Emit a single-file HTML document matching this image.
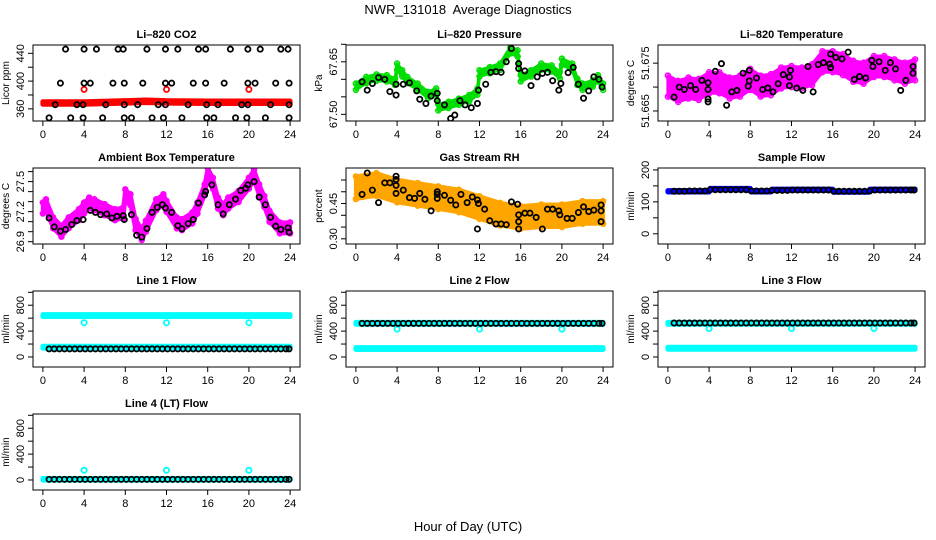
<!DOCTYPE html>
<html><head><meta charset="utf-8">
<style>
body{margin:0;background:#fff;}
svg{display:block;font-family:"Liberation Sans",Arial,sans-serif;}
</style></head>
<body>
<svg id="chart" width="936" height="540" viewBox="0 0 936 540">
<text x="468" y="14" text-anchor="middle" font-size="13" style="white-space:pre">NWR_131018  Average Diagnostics</text>
<text x="468" y="531" text-anchor="middle" font-size="13">Hour of Day (UTC)</text>
</svg>
<script>
// ---------- data ----------
const xTicks = [0,4,8,12,16,20,24];
const flowTimes = [0.6,1.1,1.6,2.1,2.6,3.1,3.6,4.1,4.6,5.1,5.6,6.1,6.6,7.1,7.6,8.1,8.6,9.1,9.6,10.1,10.6,11.1,11.6,12.1,12.6,13.1,13.6,14.1,14.6,15.1,15.6,16.1,16.6,17.1,17.6,18.1,18.6,19.1,19.6,20.1,20.6,21.1,21.6,22.1,22.6,23.1,23.6,23.9];
const outlierTimes = [4,12,20];

// CO2
const co2BandT = [0,4,8,10,12,16,20,24];
const co2BandV = [368.5,368.5,370,371,370,369.5,369.5,369.5];
const co2Outliers = [388,388,388];
const co2Black = [
[2.2,446],[4,446],[5.2,446],[7.3,446],[7.8,446],[10.1,446],[11.9,446],[13.1,446],[15.1,446],[15.8,446],[18.2,446],[19.9,446],[21.1,446],[23.1,446],[23.8,446],
[1.7,397],[4,397],[4.6,397],[6.8,397],[7.9,397],[9.7,397],[11.9,397],[12.5,397],[14.6,397],[15.8,397],[17.6,397],[19.9,397],[20.6,397],[22.6,397],[23.9,397],
[1.2,366],[3.3,366],[3.9,366],[6.1,366],[7.9,366],[9.2,366],[11.2,366],[11.9,366],[14.1,366],[15.9,366],[17.0,366],[19.3,366],[19.9,366],[22.1,366],[23.9,366],
[0.6,347],[2.7,347],[3.9,347],[5.8,347],[7.9,347],[8.6,347],[10.6,347],[11.7,347],[13.5,347],[15.9,347],[16.6,347],[18.7,347],[19.8,347],[21.6,347],[23.9,347]];

// Pressure
const presCloudT = [0,1,2,3,3.8,4,4.5,5,6,7,7.8,8,9,10,11,11.8,12,13,14,15,15.7,16,17,18,19,19.8,20,21,21.5,22,23,23.5,24];
const presCloudV = [67.579,67.598,67.605,67.603,67.593,67.636,67.617,67.598,67.579,67.555,67.565,67.520,67.527,67.536,67.546,67.565,67.617,67.626,67.636,67.683,67.674,67.603,67.617,67.636,67.631,67.612,67.650,67.636,67.593,67.579,67.588,67.603,67.579];
const presBlack = [[0.6,67.593],[1.1,67.569],[1.6,67.588],[2.2,67.605],[2.8,67.600],[3.3,67.565],[3.9,67.586],[3.9,67.555],[4.6,67.586],[5.2,67.590],[5.9,67.567],[6.2,67.543],[6.8,67.531],[7.3,67.552],[7.9,67.560],[7.9,67.539],[8.6,67.527],[9.2,67.488],[9.6,67.498],[10.1,67.539],[10.6,67.527],[11.2,67.519],[11.8,67.531],[11.9,67.569],[12.6,67.586],[13.1,67.620],[13.6,67.622],[14.1,67.620],[14.6,67.650],[15.1,67.688],[15.8,67.645],[15.8,67.631],[16.4,67.624],[17.0,67.582],[17.6,67.607],[18.1,67.617],[18.6,67.620],[19.1,67.596],[19.7,67.569],[19.9,67.588],[20.6,67.619],[21.1,67.634],[21.6,67.586],[22.1,67.546],[22.6,67.567],[23.1,67.607],[23.6,67.600],[23.9,67.578]];

// Li-820 temperature
const ltempCloudT = [0,1,2,3,4,5,6,7,8,9,10,11,12,13,14,15,16,17,18,19,20,21,22,23,24];
const ltempCloudV = [51.6702,51.6691,51.6698,51.6695,51.6709,51.6709,51.6698,51.6702,51.6716,51.6702,51.6705,51.6719,51.6722,51.6719,51.6726,51.6753,51.6753,51.6747,51.6733,51.6729,51.6743,51.6743,51.6736,51.6729,51.6736];
const ltempBlack = [[0.6,51.6679],[1.1,51.6700],[1.6,51.6695],[2.2,51.6703],[2.7,51.6695],[3.3,51.6714],[3.9,51.6695],[3.9,51.6675],[3.9,51.6669],[3.9,51.6709],[4.6,51.6733],[5.2,51.6749],[5.7,51.6662],[6.2,51.6690],[6.7,51.6693],[7.3,51.6729],[7.8,51.6702],[7.9,51.6713],[7.9,51.6735],[8.6,51.6719],[9.2,51.6695],[9.7,51.6698],[10.2,51.6690],[10.7,51.6707],[11.2,51.6726],[11.8,51.6721],[11.9,51.6735],[11.8,51.6703],[12.5,51.6698],[13.1,51.6693],[13.6,51.6743],[14.1,51.6690],[14.6,51.6747],[15.1,51.6751],[15.7,51.6748],[15.8,51.6769],[15.8,51.6741],[16.3,51.6762],[16.9,51.6759],[17.5,51.6773],[18.1,51.6716],[18.6,51.6722],[19.2,51.6719],[19.8,51.6756],[19.9,51.6743],[20.5,51.6753],[21.1,51.6735],[21.6,51.6751],[22.1,51.6738],[22.6,51.6693],[23.1,51.6714],[23.8,51.6743],[23.8,51.6729]];

// Ambient box temperature
const ambCloudT = [0,0.3,1,1.8,2.5,3.5,4,4.5,5,6,7,7.8,8,8.5,9,9.6,10,11,11.7,12,13,13.5,14.5,15,15.7,16,16.5,17,17.5,18,19,20,20.5,21,21.5,22,23,24];
const ambCloudV = [27.236,27.269,27.088,27.005,27.088,27.170,27.236,27.286,27.269,27.220,27.170,27.187,27.368,27.319,27.071,26.972,27.055,27.269,27.319,27.253,27.088,27.071,27.137,27.236,27.418,27.583,27.484,27.286,27.220,27.286,27.352,27.484,27.566,27.418,27.302,27.154,27.038,27.038];
const ambBlack = [[0.6,27.137],[1.1,27.048],[1.7,27.005],[2.2,27.022],[2.8,27.071],[3.3,27.111],[3.9,27.121],[4.6,27.213],[5.1,27.193],[5.6,27.170],[6.2,27.177],[6.7,27.137],[7.2,27.154],[7.8,27.160],[7.9,27.121],[8.6,27.170],[9.1,26.965],[9.6,26.946],[10.1,27.031],[10.6,27.193],[11.1,27.243],[11.6,27.269],[11.9,27.236],[12.5,27.193],[13.1,27.061],[13.5,27.028],[14.1,27.081],[14.6,27.121],[15.1,27.286],[15.7,27.368],[15.8,27.401],[16.4,27.467],[17.0,27.269],[17.5,27.177],[18.1,27.269],[18.7,27.325],[19.2,27.411],[19.7,27.434],[19.9,27.467],[20.5,27.500],[21.0,27.345],[21.6,27.269],[22.1,27.144],[22.6,27.055],[23.1,27.022],[23.8,27.038],[23.9,26.995]];

// Gas stream RH
const rhCloudT = [0,2,4,6,8,10,12,14,16,18,20,22,24];
const rhCloudV = [0.517,0.531,0.503,0.489,0.475,0.461,0.433,0.405,0.391,0.398,0.398,0.412,0.412];
const rhBlack = [[0.6,0.489],[1.1,0.580],[1.6,0.507],[2.2,0.454],[2.8,0.538],[3.3,0.538],[3.9,0.566],[3.9,0.552],[3.9,0.493],[3.9,0.527],[4.6,0.507],[5.2,0.475],[5.7,0.472],[6.2,0.493],[6.7,0.468],[7.3,0.419],[7.9,0.500],[7.9,0.489],[7.9,0.472],[8.6,0.485],[9.2,0.464],[9.7,0.444],[10.2,0.489],[10.8,0.454],[11.3,0.478],[11.8,0.465],[11.8,0.342],[11.9,0.450],[12.5,0.426],[13.0,0.377],[13.6,0.363],[14.1,0.363],[14.6,0.360],[15.1,0.457],[15.7,0.447],[15.8,0.402],[15.8,0.373],[15.8,0.342],[16.4,0.409],[16.9,0.409],[17.5,0.391],[18.1,0.342],[18.6,0.426],[19.1,0.426],[19.7,0.419],[19.8,0.402],[20.5,0.387],[21.0,0.387],[21.6,0.412],[22.1,0.436],[22.6,0.416],[23.1,0.422],[23.8,0.444],[23.8,0.419],[23.8,0.373]];

// Sample flow
const sampleBandT = [0,4,4.1,8,8.1,10,10.1,16,16.1,19.5,19.6,24];
const sampleBandV = [133,133,140,140,133,133,138,138,132,132,138,138];
const sampleBlackV = [133,133,133,134,134,134,134,138,138,138,138,138,138,138,138,134,134,134,134,136,136,136,136,137,137,137,137,137,137,137,137,133,133,133,133,133,133,133,134,137,137,137,137,137,137,137,137,137];

// Line flows
const bandT = [0,24];
const line1High = [640,640];
const line1Low = [150,150];
const line1Out = [530,530,530];
const line1Black = 125;
const line2High = [520,520];
const line2Low = [130,130];
const line2Out = [430,430,430];
const line2Black = 520;
const line3High = [520,520];
const line3Low = [135,135];
const line3Out = [440,440,440];
const line3Black = 525;
const line4Low = [10,10];
const line4Out = [150,150,150];
const line4Black = 10;

// ---------- rendering ----------
const NS = "http://www.w3.org/2000/svg";
const svg = document.getElementById('chart');
const colL = [33,346,658], colW = 267;
const rowT = [45,168,291,414], rowH = 76;
const XMIN = -0.96, XMAX = 24.96;

function mk(tag, attrs, parent){
  const e = document.createElementNS(NS, tag);
  for (const k in attrs) e.setAttribute(k, attrs[k]);
  (parent||svg).appendChild(e);
  return e;
}

function panel(name, col, row, title, ymin, ymax, ticks, labels, ylab){
  const L = colL[col], T = rowT[row], W = colW, H = rowH;
  const g = mk('g', {});
  
  
  const xs = t => L + (t - XMIN) / (XMAX - XMIN) * W;
  const ys = v => T + H - (v - ymin) / (ymax - ymin) * H;
  const tt = mk('text', {x: L + W/2, y: T - 7, 'text-anchor':'middle', 'font-size':11, 'font-weight':'bold'}, g);
  tt.textContent = title;
  
  
  const xa = mk('g', {}, g);
  
  
  mk('line', {x1: xs(xTicks[0]), x2: xs(xTicks[xTicks.length-1]), y1: T+H, y2: T+H, stroke:'#000'}, xa);
  xTicks.forEach(t => {
    mk('line', {x1: xs(t), x2: xs(t), y1: T+H, y2: T+H+5, stroke:'#000'}, xa);
    const lb = mk('text', {x: xs(t), y: T+H+17, 'text-anchor':'middle', 'font-size':11}, xa);
    lb.textContent = t;
  });
  const ya = mk('g', {}, g);
  
  
  mk('line', {x1: L, x2: L, y1: ys(ticks[0]), y2: ys(ticks[ticks.length-1]), stroke:'#000'}, ya);
  ticks.forEach(v => {
    mk('line', {x1: L-5, x2: L, y1: ys(v), y2: ys(v), stroke:'#000'}, ya);
  });
  labels.forEach(v => {
    const y = ys(v);
    const lb = mk('text', {x: L-9, y: y, 'text-anchor':'middle', 'font-size':11, transform:`rotate(-90 ${L-9} ${y})`}, ya);
    lb.textContent = v;
  });
  const yl = mk('text', {x: L-24, y: T+H/2, 'text-anchor':'middle', 'font-size':10, transform:`rotate(-90 ${L-24} ${T+H/2})`}, g);
  yl.textContent = ylab;
  
  
  const clipId = 'clip-' + name;
  const cp = mk('clipPath', {id: clipId}, g);
  mk('rect', {x: L, y: T, width: W, height: H}, cp);
  const plot = mk('g', {'clip-path': `url(#${clipId})`}, g);
  const box = mk('rect', {x: L, y: T, width: W, height: H, fill:'none', stroke:'#000'}, g);
  
  
  return {xs, ys, plot};
}

function band(p, tArr, vArr, hw, color, name, dots, sw){
  let up = [], dn = [];
  for (let i=0;i<tArr.length;i++){
    up.push(p.xs(tArr[i]) + ',' + p.ys(vArr[i]+hw));
    dn.unshift(p.xs(tArr[i]) + ',' + p.ys(vArr[i]-hw));
  }
  const poly = mk('polygon', {points: up.concat(dn).join(' '), fill: color, stroke: color, 'stroke-width': (sw===undefined?5:sw), 'stroke-linejoin':'round'}, p.plot);
  
  
  if (dots){
    for (let i=0;i<tArr.length;i++){
      [-1,1].forEach(k => {
        const c = mk('circle', {cx: p.xs(tArr[i]), cy: p.ys(vArr[i]+k*hw), r: 2.5, fill:'none', stroke: color, 'stroke-width':1.5}, p.plot);
        
        
      });
    }
  }
}

function pts(p, pairs, color, name){
  pairs.forEach(([t,v]) => {
    const c = mk('circle', {cx: p.xs(t), cy: p.ys(v), r: 2.6, fill:'none', stroke: color, 'stroke-width':1.8}, p.plot);
    
    
  });
}
const zip = (ts, vs) => ts.map((t,i) => [t, vs[i]]);
const constPairs = (ts, v) => ts.map(t => [t, v]);

// Row 1
let p = panel('co2', 0, 0, 'Li–820 CO2', 342.5, 452, [360,380,400,420,440], [360,400,440], 'Licor ppm');
band(p, co2BandT, co2BandV, 1.8, '#ff0000', 'co2-red-band', false);
pts(p, zip(outlierTimes, co2Outliers), '#ff0000', 'co2-red-outlier');
pts(p, co2Black, '#000', 'co2-black-point');

p = panel('pressure', 1, 0, 'Li–820 Pressure', 67.481, 67.698, [67.50,67.55,67.60,67.65,67.70], ['67.50','67.65'], 'kPa');
band(p, presCloudT, presCloudV, 0.009, '#00dd00', 'pressure-green-cloud', true, 3);
pts(p, presBlack, '#000', 'pressure-black-point');

p = panel('licor-temp', 2, 0, 'Li–820 Temperature', 51.6629, 51.6788, [51.665,51.670,51.675], ['51.665','51.675'], 'degrees C');
band(p, ltempCloudT, ltempCloudV, 0.0022, '#ff00ff', 'licor-temp-magenta-cloud', true, 3);
pts(p, ltempBlack, '#000', 'licor-temp-black-point');

// Row 2
p = panel('ambient', 0, 1, 'Ambient Box Temperature', 26.877, 27.636, [26.9,27.0,27.1,27.2,27.3,27.4,27.5,27.6], ['26.9','27.2','27.5'], 'degrees C');
band(p, ambCloudT, ambCloudV, 0.055, '#ff00ff', 'ambient-magenta-cloud', true, 4);
pts(p, ambBlack, '#000', 'ambient-black-point');

p = panel('rh', 1, 1, 'Gas Stream RH', 0.278, 0.601, [0.30,0.35,0.40,0.45,0.50,0.55], ['0.30','0.45'], 'percent');
band(p, rhCloudT, rhCloudV, 0.048, '#ffa500', 'rh-orange-cloud', true, 4);
pts(p, rhBlack, '#000', 'rh-black-point');

p = panel('sample-flow', 2, 1, 'Sample Flow', -32, 206, [0,50,100,150,200], [0,100,200], 'ml/min');
band(p, sampleBandT, sampleBandV, 2, '#0000ff', 'sample-blue-band', false);
pts(p, zip(flowTimes, sampleBlackV), '#000', 'sample-black-point');

// Row 3
p = panel('line1', 0, 2, 'Line 1 Flow', -155, 1020, [0,200,400,600,800,1000], [0,400,800], 'ml/min');
band(p, bandT, line1High, 15, '#00ffff', 'line1-cyan-high-band', false);
band(p, bandT, line1Low, 15, '#00ffff', 'line1-cyan-low-band', false);
pts(p, zip(outlierTimes, line1Out), '#00ffff', 'line1-cyan-outlier');
pts(p, constPairs(flowTimes, line1Black), '#000', 'line1-black-point');

p = panel('line2', 1, 2, 'Line 2 Flow', -155, 1020, [0,200,400,600,800,1000], [0,400,800], 'ml/min');
band(p, bandT, line2High, 15, '#00ffff', 'line2-cyan-high-band', false);
band(p, bandT, line2Low, 15, '#00ffff', 'line2-cyan-low-band', false);
pts(p, zip(outlierTimes, line2Out), '#00ffff', 'line2-cyan-outlier');
pts(p, constPairs(flowTimes, line2Black), '#000', 'line2-black-point');

p = panel('line3', 2, 2, 'Line 3 Flow', -155, 1020, [0,200,400,600,800,1000], [0,400,800], 'ml/min');
band(p, bandT, line3High, 15, '#00ffff', 'line3-cyan-high-band', false);
band(p, bandT, line3Low, 15, '#00ffff', 'line3-cyan-low-band', false);
pts(p, zip(outlierTimes, line3Out), '#00ffff', 'line3-cyan-outlier');
pts(p, constPairs(flowTimes, line3Black), '#000', 'line3-black-point');

// Row 4
p = panel('line4', 0, 3, 'Line 4 (LT) Flow', -155, 1020, [0,200,400,600,800,1000], [0,400,800], 'ml/min');
band(p, bandT, line4Low, 12, '#00ffff', 'line4-cyan-band', false);
pts(p, zip(outlierTimes, line4Out), '#00ffff', 'line4-cyan-outlier');
pts(p, constPairs(flowTimes, line4Black), '#000', 'line4-black-point');
</script>
</body></html>
